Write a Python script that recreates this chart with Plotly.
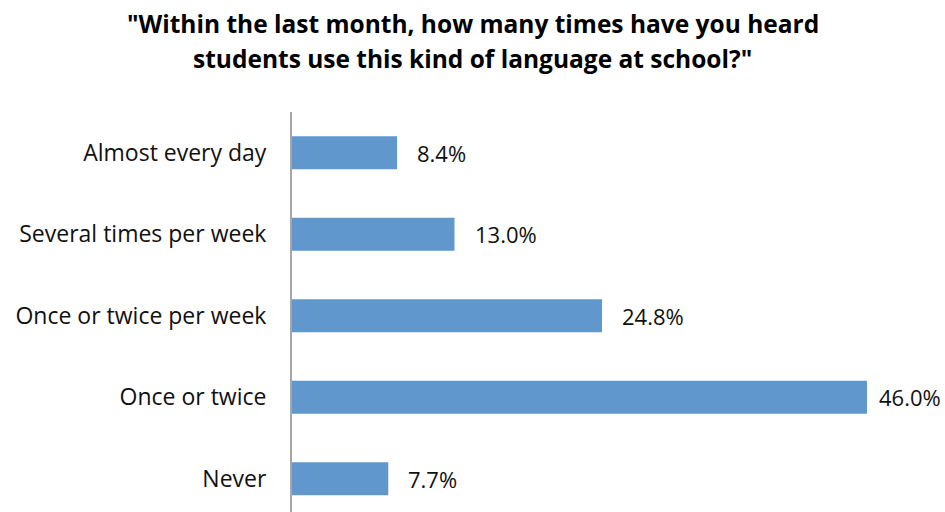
import plotly.graph_objects as go

# Survey responses, top to bottom
categories = ["Almost every day", "Several times per week", "Once or twice per week",
              "Once or twice", "Never"]
percentages = [8.4, 13.0, 24.8, 46.0, 7.7]
value_labels = ["8.4%", "13.0%", "24.8%", "46.0%", "7.7%"]

title_lines = ['"Within the last month, how many times have you heard',
               'students use this kind of language at school?"']

FONT = "Open Sans, sans-serif"
BAR_COLOR = "#6097CC"
PLOT_LEFT = 292
PLOT_W = 625
PLOT_TOP = 112
PLOT_H = 400
FIG_W = 945


def paper_y(px):
    """Convert a pixel row (from the figure top) to paper coordinates."""
    return 1 + (PLOT_TOP - px) / PLOT_H


fig = go.Figure(
    go.Bar(
        x=percentages,
        y=categories,
        orientation="h",
        marker=dict(color=BAR_COLOR, line=dict(width=0)),
        width=0.405,
        hoverinfo="skip",
    )
)

# Value labels placed just past the end of each bar; the longest bar's label
# is pulled in closer so it stays inside the figure
x_max = 50
for cat, val, lab in zip(categories, percentages, value_labels):
    bar_end_px = PLOT_LEFT + val / x_max * PLOT_W
    shift = 18 if bar_end_px + 18 + 62 < FIG_W else 10
    fig.add_annotation(
        x=val, y=cat, xref="x", yref="y", text=lab, showarrow=False,
        xanchor="left", yanchor="middle", xshift=shift,
        font=dict(family=FONT, size=22, color="#111111"),
    )

# Two-line chart title, centred on the full figure width
for line, row in zip(title_lines, [23, 59]):
    fig.add_annotation(
        text=line, showarrow=False,
        xref="paper", x=(FIG_W / 2 - PLOT_LEFT) / PLOT_W, xanchor="center",
        yref="paper", y=paper_y(row), yanchor="middle",
        font=dict(family=FONT, size=24.5, color="#000000", weight="bold"),
    )

fig.update_layout(
    width=FIG_W, height=512,
    margin=dict(l=PLOT_LEFT, r=FIG_W - PLOT_LEFT - PLOT_W, t=PLOT_TOP, b=0),
    paper_bgcolor="white", plot_bgcolor="white",
    showlegend=False,
    xaxis=dict(range=[0, x_max], visible=False, fixedrange=True),
    yaxis=dict(
        type="category",
        categoryorder="array", categoryarray=categories,
        range=[4.408, -0.5],
        showline=True, linecolor="#A6A6A6", linewidth=2,
        ticks="", showgrid=False, zeroline=False,
        ticklabelstandoff=19,
        tickfont=dict(family=FONT, size=23, color="#111111"),
    ),
)

fig.write_html("out.html")
